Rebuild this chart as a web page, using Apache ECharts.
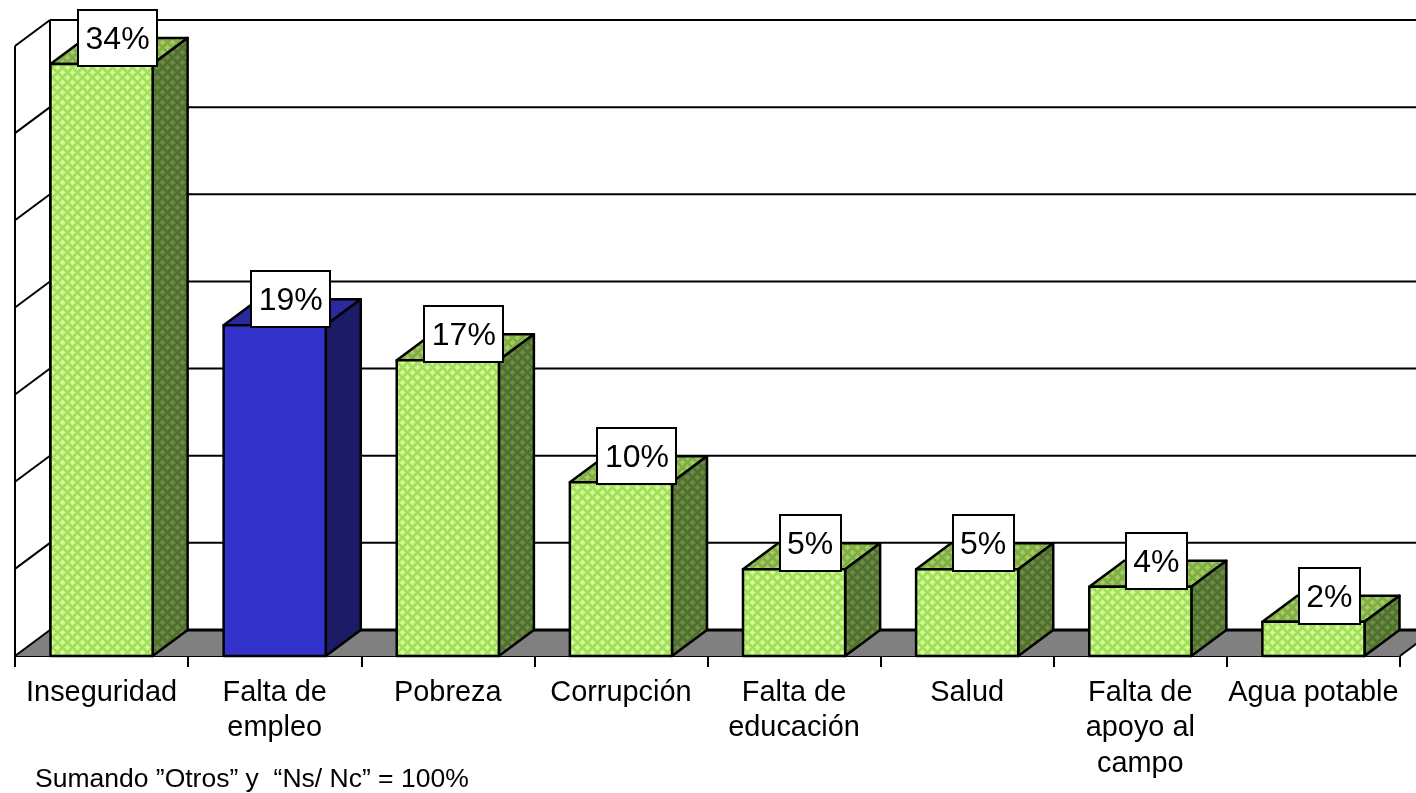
<!DOCTYPE html>
<html><head><meta charset="utf-8">
<style>html,body{margin:0;padding:0;background:#fff}#c{width:1416px;height:793px}</style>
<script src="https://cdn.jsdelivr.net/npm/echarts@6/dist/echarts.min.js"></script>
</head><body><div id="c"></div>
<script>
const categories = ['Inseguridad','Falta de\nempleo','Pobreza','Corrupción','Falta de\neducación','Salud','Falta de\napoyo al\ncampo','Agua potable'];
const values = [34,19,17,10,5,5,4,2];
const highlighted = ['Falta de\nempleo'];
const wallTicks = [0,5,10,15,20,25,30,35];
const footnote = 'Sumando ”Otros” y  “Ns/ Nc” = 100%';

const DX = 35, DY = -26, FONT = '"Liberation Sans", Arial, sans-serif';
function tile(light, dark){
  const S = 10, c = document.createElement('canvas'); c.width = S; c.height = S;
  const g = c.getContext('2d');
  const centers = [[2.5,2.5],[7.5,7.5],[7.5,-2.5],[-2.5,7.5],[12.5,2.5],[2.5,12.5],[12.5,12.5],[-2.5,-2.5]];
  for(let y=0;y<S;y++) for(let x=0;x<S;x++){
    let d = 99;
    centers.forEach(p=>{ d = Math.min(d, Math.abs(x+.5-p[0])+Math.abs(y+.5-p[1])); });
    const t = Math.max(0, Math.min(1, (d-1.5)/3));
    const col = light.map((v,k)=>Math.round(v+(dark[k]-v)*t));
    g.fillStyle = 'rgb('+col.join(',')+')';
    g.fillRect(x,y,1,1);
  }
  return {image:c, repeat:'repeat'};
}
const green = {
  front:tile([208,255,160],[160,218,80]),
  top:tile([165,208,105],[124,168,62]),
  side:tile([112,142,72],[76,108,42])
};
const blue = {front:'#3333cc', top:'#2a2a9e', side:'#1c1c66'};
const LW = 2, BAR_LW = 2.5, BL = '#000';
const measure = document.createElement('canvas').getContext('2d');
measure.font = '32px '+FONT;

function poly(pts, fill){ return {type:'polygon', shape:{points:pts}, style:{fill, stroke:BL, lineWidth:BAR_LW, lineJoin:'round'}}; }
function line(a,b,w){ return {type:'line', shape:{x1:a[0],y1:a[1],x2:b[0],y2:b[1]}, style:{stroke:BL, lineWidth:w||LW}}; }

function renderWall(params, api){
  const v = api.value(0);
  const cs = params.coordSys;
  const y = api.coord([0,v])[1];
  const x0 = cs.x, x1 = cs.x + cs.width;
  const children = [];
  if(params.dataIndex===0){
    const top = cs.y;
    children.push({type:'polygon', shape:{points:[[x0,y],[x0+DX,y+DY],[x1+DX,y+DY],[x1,y]]}, style:{fill:'#808080', stroke:'none'}});
    children.push(line([x0,top],[x0,y]));
    children.push(line([x0+DX,top+DY],[x0+DX,y+DY]));
    children.push(line([x1,y],[x1+DX,y+DY]));
  }
  children.push(line([x0,y],[x0+DX,y+DY]));
  children.push(line([x0+DX,y+DY],[x1+DX,y+DY], v===0?3:2));
  return {type:'group', children};
}
function renderBar(params, api){
  const i = api.value(0), v = api.value(1);
  const top = api.coord([i,v]), base = api.coord([i,0]);
  const w = api.size([1,0])[0]*0.59;
  const l = top[0]-w/2, r = top[0]+w/2, t = top[1]+0.5, b = base[1];
  const p = highlighted.includes(categories[i]) ? blue : green;
  return {type:'group', children:[
    poly([[l,t],[l+DX,t+DY],[r+DX,t+DY],[r,t]], p.top),
    poly([[r,t],[r+DX,t+DY],[r+DX,b+DY],[r,b]], p.side),
    poly([[l,t],[r,t],[r,b],[l,b]], p.front)
  ]};
}
function renderLabel(params, api){
  const i = api.value(0), v = api.value(1);
  const top = api.coord([i,v]);
  const txt = v+'%';
  const w = Math.round(measure.measureText(txt).width)+15, h = 56;
  const cx = top[0]+16;
  const yb = Math.round(top[1]+2.5);
  return {type:'group', children:[
    {type:'rect', shape:{x:Math.round(cx-w/2), y:yb-h, width:w, height:h}, style:{fill:'#fff', stroke:'#000', lineWidth:2}},
    {type:'text', x:cx, y:yb-h/2+2.5, style:{text:txt, font:'32px '+FONT, fill:'#000', align:'center', verticalAlign:'middle'}}
  ]};
}

const chart = echarts.init(document.getElementById('c'), null, {renderer:'canvas'});
chart.setOption({
  animation:false,
  backgroundColor:'#fff',
  title:{text:footnote, left:35, top:766, padding:0, textStyle:{fontFamily:FONT, fontSize:26.5, fontWeight:'normal', color:'#000'}},
  grid:{left:15, right:16, top:46, bottom:137, containLabel:false},
  xAxis:{type:'category', data:categories, boundaryGap:true,
    axisLine:{show:true, lineStyle:{color:'#000', width:2}},
    axisTick:{show:true, length:11, alignWithLabel:false, interval:0, lineStyle:{color:'#000', width:2}},
    axisLabel:{interval:0, margin:19, color:'#000', fontFamily:FONT, fontSize:28.9, lineHeight:35.5, hideOverlap:false}},
  yAxis:{type:'value', min:0, max:35, interval:5, show:false, splitLine:{show:false}},
  series:[
    {type:'custom', name:'wall', z:1, silent:true, coordinateSystem:'cartesian2d', clip:false,
      data:wallTicks.map(v=>[v]), encode:{y:0}, renderItem:renderWall},
    {type:'custom', name:'bars', z:2, silent:true, clip:false,
      data:values.map((v,i)=>[i,v]), encode:{x:0,y:1}, renderItem:renderBar},
    {type:'custom', name:'labels', z:6, silent:true, clip:false,
      data:values.map((v,i)=>[i,v]), encode:{x:0,y:1}, renderItem:renderLabel}
  ]
});
</script></body></html>
